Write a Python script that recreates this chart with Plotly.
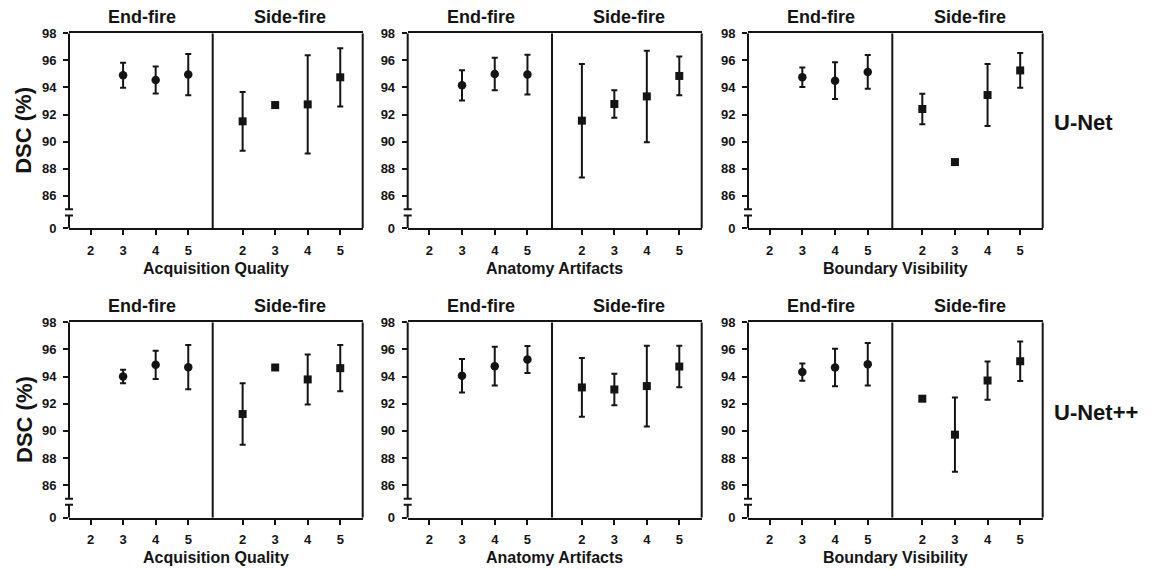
import plotly.graph_objects as go

# ---------------- data ----------------
levels_end = [3, 4, 5]
levels_side = [2, 3, 4, 5]

x_titles = ["Acquisition Quality", "Anatomy Artifacts", "Boundary Visibility"]
row_titles = ["U-Net", "U-Net++"]
y_tick_vals = [83.6, 86, 88, 90, 92, 94, 96, 98]
y_tick_text = ["0", "86", "88", "90", "92", "94", "96", "98"]

# U-Net (row 1)
unet_acq_end_mean = [94.9, 94.55, 94.95]
unet_acq_end_sd = [0.92, 0.99, 1.52]
unet_acq_side_mean = [91.5, 92.7, 92.75, 94.75]
unet_acq_side_sd = [2.17, 0.0, 3.62, 2.15]

unet_ana_end_mean = [94.16, 95.0, 94.95]
unet_ana_end_sd = [1.12, 1.2, 1.47]
unet_ana_side_mean = [91.55, 92.78, 93.34, 94.85]
unet_ana_side_sd = [4.19, 1.01, 3.38, 1.43]

unet_bnd_end_mean = [94.75, 94.5, 95.15]
unet_bnd_end_sd = [0.72, 1.36, 1.25]
unet_bnd_side_mean = [92.41, 88.49, 93.44, 95.26]
unet_bnd_side_sd = [1.13, 0.0, 2.29, 1.29]

# U-Net++ (row 2)
unetpp_acq_end_mean = [94.01, 94.87, 94.69]
unetpp_acq_end_sd = [0.5, 1.04, 1.63]
unetpp_acq_side_mean = [91.24, 94.67, 93.79, 94.62]
unetpp_acq_side_sd = [2.27, 0.0, 1.84, 1.7]

unetpp_ana_end_mean = [94.06, 94.77, 95.26]
unetpp_ana_end_sd = [1.23, 1.42, 0.99]
unetpp_ana_side_mean = [93.2, 93.05, 93.3, 94.74]
unetpp_ana_side_sd = [2.16, 1.16, 2.98, 1.53]

unetpp_bnd_end_mean = [94.33, 94.67, 94.91]
unetpp_bnd_end_sd = [0.63, 1.38, 1.56]
unetpp_bnd_side_mean = [92.37, 89.72, 93.71, 95.13]
unetpp_bnd_side_sd = [0.0, 2.73, 1.41, 1.45]

panels = [
    (unet_acq_end_mean, unet_acq_end_sd, unet_acq_side_mean, unet_acq_side_sd),
    (unet_ana_end_mean, unet_ana_end_sd, unet_ana_side_mean, unet_ana_side_sd),
    (unet_bnd_end_mean, unet_bnd_end_sd, unet_bnd_side_mean, unet_bnd_side_sd),
    (unetpp_acq_end_mean, unetpp_acq_end_sd, unetpp_acq_side_mean, unetpp_acq_side_sd),
    (unetpp_ana_end_mean, unetpp_ana_end_sd, unetpp_ana_side_mean, unetpp_ana_side_sd),
    (unetpp_bnd_end_mean, unetpp_bnd_end_sd, unetpp_bnd_side_mean, unetpp_bnd_side_sd),
]

# ---------------- layout geometry ----------------
OFF = 8  # page body margin in the browser
W, H = 1152 - OFF, 569 - OFF
COLS = [(69, 212.7, 362.7), (407.7, 552, 701.7), (748, 892.3, 1042.7)]
ROWS = [(33.3, 228.3), (322.3, 517.7)]
END_RANGE = [1.34, 5.75]
SIDE_RANGE = [1.08, 5.69]
YMIN, YMAX = 83.6, 98
BRK_HI, BRK_LO = 85.0, 84.55
INK = "#141414"
FONT = "Liberation Sans, Arial, sans-serif"
LW = 2

def fx(px):
    return (px - OFF) / W

def fy(py):
    return 1 - (py - OFF) / H

fig = go.Figure()
layout = dict(
    template="none",
    width=W, height=H,
    margin=dict(l=0, r=0, t=0, b=0, autoexpand=False),
    paper_bgcolor="white", plot_bgcolor="white",
    showlegend=False,
    font=dict(family=FONT, color=INK),
)
shapes = []
annotations = []

err_style = dict(type="data", thickness=2, width=3, color=INK, visible=True)

for p, (em, es, sm, ss) in enumerate(panels):
    r, c = divmod(p, 3)
    L, D, R = COLS[c]
    top, bot = ROWS[r]
    xe, xs, yi = 2 * p + 1, 2 * p + 2, p + 1
    xe_name = "x" if xe == 1 else f"x{xe}"
    xs_name = f"x{xs}"
    y_name = "y" if yi == 1 else f"y{yi}"

    fig.add_trace(go.Scatter(
        x=levels_end, y=em, mode="markers",
        marker=dict(symbol="circle", size=8.5, color=INK),
        error_y=dict(array=es, **err_style),
        xaxis=xe_name, yaxis=y_name, cliponaxis=False))
    fig.add_trace(go.Scatter(
        x=levels_side, y=sm, mode="markers",
        marker=dict(symbol="square", size=8, color=INK),
        error_y=dict(array=ss, **err_style),
        xaxis=xs_name, yaxis=y_name, cliponaxis=False))

    xcommon = dict(
        tickvals=[2, 3, 4, 5], ticktext=["2", "3", "4", "5"],
        showline=True, linecolor=INK, linewidth=LW, mirror=True,
        ticks="outside", ticklen=5, tickwidth=LW, tickcolor=INK,
        tickfont=dict(size=13, weight="bold", color=INK, family=FONT),
        ticklabelstandoff=4, automargin=False,
        showgrid=False, zeroline=False, fixedrange=True,
        anchor=y_name,
    )
    layout["xaxis" if xe == 1 else f"xaxis{xe}"] = dict(
        domain=[fx(L), fx(D)], range=END_RANGE, **xcommon)
    layout[f"xaxis{xs}"] = dict(
        domain=[fx(D), fx(R)], range=SIDE_RANGE, **xcommon)
    layout["yaxis" if yi == 1 else f"yaxis{yi}"] = dict(
        domain=[fy(bot), fy(top)], range=[YMIN, YMAX],
        tickvals=y_tick_vals, ticktext=y_tick_text,
        showline=False, ticks="outside", ticklen=5, tickwidth=LW, tickcolor=INK,
        tickfont=dict(size=13, weight="bold", color=INK, family=FONT),
        ticklabelstandoff=4, automargin=False,
        showgrid=False, zeroline=False, fixedrange=True,
        anchor=xe_name,
    )

    line = dict(color=INK, width=LW)
    # left spine with break
    shapes.append(dict(type="line", xref="paper", yref=y_name,
                       x0=fx(L), x1=fx(L), y0=BRK_HI, y1=YMAX, line=line))
    shapes.append(dict(type="line", xref="paper", yref=y_name,
                       x0=fx(L), x1=fx(L), y0=YMIN, y1=BRK_LO, line=line))
    for yb in (BRK_HI, BRK_LO):
        shapes.append(dict(type="line", xref="paper", yref=y_name,
                           x0=fx(L - 4), x1=fx(L + 4), y0=yb, y1=yb, line=line))
    # divider and right border
    for xp in (D, R):
        shapes.append(dict(type="line", xref="paper", yref=y_name,
                           x0=fx(xp), x1=fx(xp), y0=YMIN, y1=YMAX, line=line))

    # sub-panel titles
    annotations.append(dict(text="End-fire", xref="paper", yref="paper",
                            x=fx((L + D) / 2 + 1), y=fy(top - 4), xanchor="center", yanchor="bottom",
                            showarrow=False, font=dict(size=18, weight="bold", color=INK, family=FONT)))
    annotations.append(dict(text="Side-fire", xref="paper", yref="paper",
                            x=fx((D + R) / 2 + 2), y=fy(top - 4), xanchor="center", yanchor="bottom",
                            showarrow=False, font=dict(size=18, weight="bold", color=INK, family=FONT)))
    # x axis title
    annotations.append(dict(text=x_titles[c], xref="paper", yref="paper",
                            x=fx((L + R) / 2), y=fy(bot + 40), xanchor="center", yanchor="middle",
                            showarrow=False, font=dict(size=16, weight="bold", color=INK, family=FONT)))
    if c == 0:
        annotations.append(dict(text="DSC (%)", xref="paper", yref="paper",
                                x=fx(24), y=fy((top + bot) / 2), xanchor="center", yanchor="middle",
                                textangle=-90, showarrow=False,
                                font=dict(size=22, weight="bold", color=INK, family=FONT)))
    if c == 2:
        annotations.append(dict(text=row_titles[r], xref="paper", yref="paper",
                                x=fx(1052), y=fy((top + bot) / 2 - 8), xanchor="left", yanchor="middle",
                                showarrow=False,
                                font=dict(size=22, weight="bold", color=INK, family=FONT)))

layout["shapes"] = shapes
layout["annotations"] = annotations
fig.update_layout(**layout)
fig.write_html("out.html")
